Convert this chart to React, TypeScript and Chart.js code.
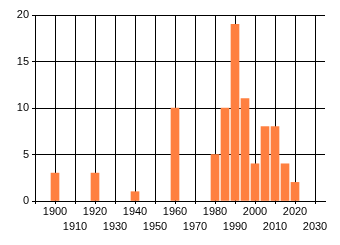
import React, { useEffect, useRef } from 'react';
import { Chart, registerables } from 'chart.js';
Chart.register(...registerables);

const years = [1900, 1920, 1940, 1960, 1980, 1985, 1990, 1995, 2000, 2005, 2010, 2015, 2020];
const counts = [3, 3, 1, 10, 5, 10, 19, 11, 4, 8, 8, 4, 2];
const xTicks = [1890, 1900, 1910, 1920, 1930, 1940, 1950, 1960, 1970, 1980, 1990, 2000, 2010, 2020, 2030];
const yTicks = [0, 5, 10, 15, 20];

export default function App() {
  const ref = useRef<HTMLCanvasElement>(null);
  useEffect(() => {
    const font = { family: 'Liberation Sans', size: 11, lineHeight: '15px' };
    const chart = new Chart(ref.current as HTMLCanvasElement, {
      type: 'bar',
      data: {
        datasets: [
          {
            data: years.map((y, i) => ({ x: y, y: counts[i] })),
            backgroundColor: '#ff8040',
            borderWidth: 0,
            barThickness: 8,
          },
        ],
      },
      options: {
        animation: false,
        responsive: false,
        maintainAspectRatio: false,
        layout: { padding: { left: 0, top: 15, right: 15, bottom: 0 } },
        plugins: { legend: { display: false }, tooltip: { enabled: false } },
        scales: {
          x: {
            type: 'linear',
            min: 1890,
            max: 2035,
            offset: false,
            afterBuildTicks: (s: any) => {
              s.ticks = xTicks.map((v) => ({ value: v }));
            },
            afterFit: (s: any) => {
              s.height = 44;
            },
            grid: { color: '#000', lineWidth: 1, tickLength: 3, offset: false },
            border: { color: '#000', width: 1 },
            ticks: {
              autoSkip: false,
              maxRotation: 0,
              minRotation: 0,
              padding: 0,
              color: '#000',
              font,
              callback: (v: any) => {
                const n = Number(v);
                if (n === 1890) return '';
                const idx = Math.round((n - 1900) / 10);
                return idx % 2 === 0 ? [String(n), ''] : ['', String(n)];
              },
            },
          },
          y: {
            min: 0,
            max: 20,
            afterBuildTicks: (s: any) => {
              s.ticks = yTicks.map((v) => ({ value: v }));
            },
            afterFit: (s: any) => {
              s.width = 35;
            },
            grid: { color: '#000', lineWidth: 1, tickLength: 3 },
            border: { color: '#000', width: 1 },
            ticks: { padding: 3, color: '#000', font: { family: 'Liberation Sans', size: 11 } },
          },
        },
      },
    } as any);
    return () => chart.destroy();
  }, []);
  return (
    <div style={{ position: 'absolute', left: 0, top: 0, width: 340, height: 245, background: '#fff' }}>
      <canvas ref={ref} width={340} height={245} style={{ display: 'block', width: 340, height: 245 }} />
    </div>
  );
}
